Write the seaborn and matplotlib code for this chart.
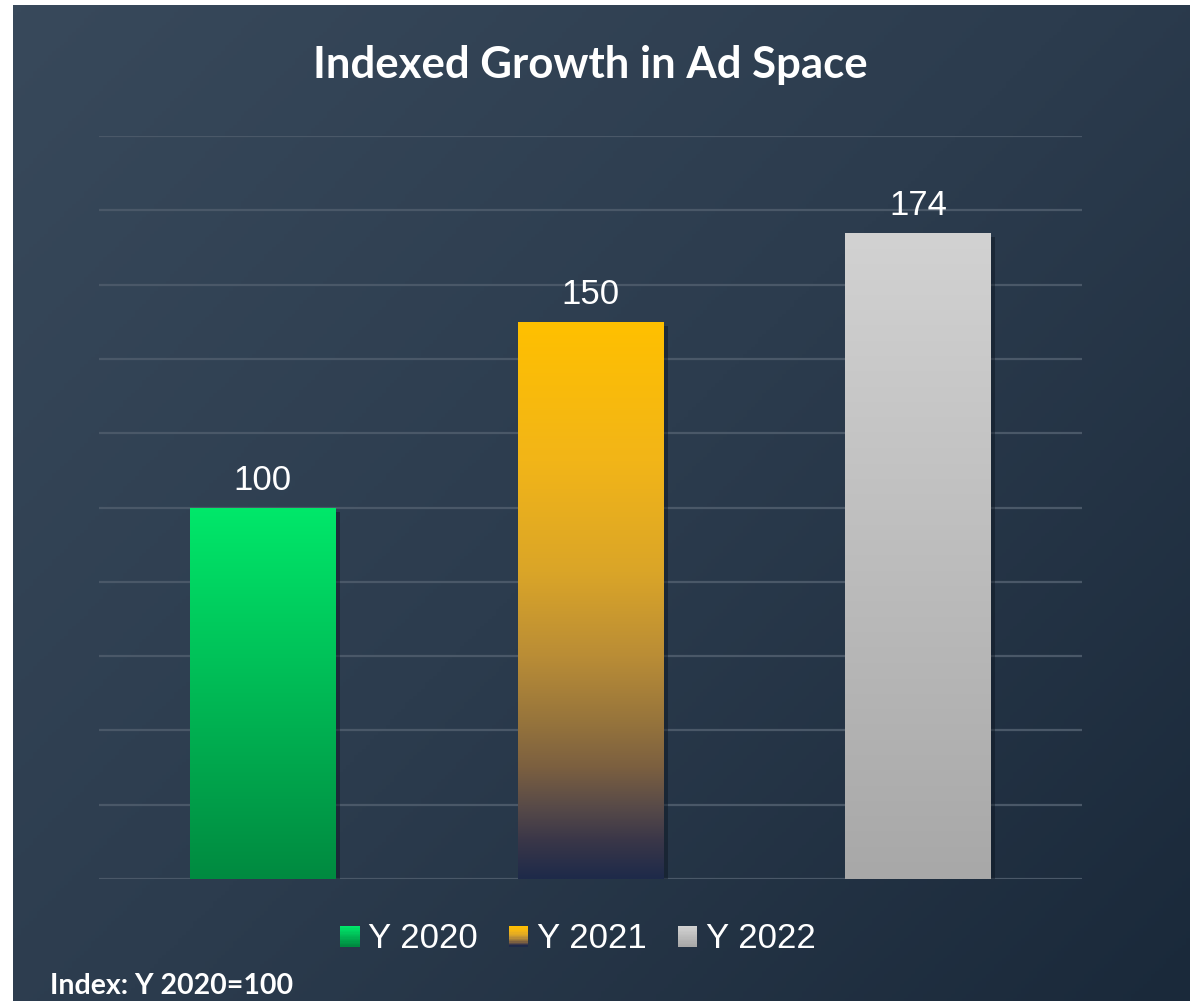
import numpy as np
import pandas as pd
import matplotlib
matplotlib.use("Agg")
import matplotlib.pyplot as plt
import seaborn as sns
from matplotlib.colors import LinearSegmentedColormap
from matplotlib.patches import Rectangle
from matplotlib.legend_handler import HandlerBase
import matplotlib.patheffects as pe

# ---- data ----
categories = ["Y 2020", "Y 2021", "Y 2022"]
index_values = [100, 150, 174]
y_ticks = [0, 20, 40, 60, 80, 100, 120, 140, 160, 180, 200]
title_text = "Indexed Growth in Ad Space"
footnote_text = "Index: Y 2020=100"

# vertical gradient stops per bar (top -> bottom)
gradients = {
    "Y 2020": [(0.0, "#00e86a"), (1.0, "#008a40")],
    "Y 2021": [(0.0, "#ffc000"), (0.25, "#f2b518"), (0.45, "#daa528"),
               (0.6, "#ba8d36"), (0.72, "#96743c"), (0.8, "#7c6040"),
               (0.87, "#594b48"), (0.93, "#3b3748"), (1.0, "#1e2a4a")],
    "Y 2022": [(0.0, "#d2d2d2"), (1.0, "#a8a8a8")],
}
cmaps = {k: LinearSegmentedColormap.from_list(k, v) for k, v in gradients.items()}

sns.set_theme(style="white")
plt.rcParams["font.family"] = ["Liberation Sans", "DejaVu Sans"]

W, H = 1201, 1001
fig = plt.figure(figsize=(W / 100, H / 100), dpi=100)
fig.patch.set_facecolor("white")

# dark diagonal gradient panel
bg_ax = fig.add_axes([13 / W, 0, (1190 - 13) / W, (H - 5) / H], zorder=0)
gx, gy = np.meshgrid(np.linspace(0, 1, 300), np.linspace(0, 1, 300))
t = (gx * 0.55 + gy * 0.45)
bg_cmap = LinearSegmentedColormap.from_list("bg", ["#38495b", "#2c3c4e", "#1a293a"])
bg_ax.imshow(t, cmap=bg_cmap, aspect="auto", origin="upper", extent=(0, 1, 0, 1))
bg_ax.set_axis_off()

# main plotting axes
ax = fig.add_axes([99 / W, (H - 879) / H, (1082 - 99) / W, (879 - 136) / H], zorder=1)
ax.patch.set_alpha(0)

df = pd.DataFrame({"year": categories, "index": index_values})
mid_colors = [cmaps[c](0.5) for c in categories]
sns.barplot(data=df, x="year", y="index", hue="year", palette=mid_colors,
            width=0.445, legend=False, ax=ax, saturation=1)

ax.set_xlim(-0.5, len(categories) - 0.5)
ax.set_ylim(0, 200)
ax.set_yticks(y_ticks)
ax.yaxis.grid(True, color="#4a5868", linewidth=1.6)
ax.set_axisbelow(True)
ax.set_xticks([])
ax.set_yticklabels([])
ax.tick_params(left=False, bottom=False)
ax.set_xlabel("")
ax.set_ylabel("")
for s in ax.spines.values():
    s.set_visible(False)

# gradient fill on each bar plus soft shadow
for patch, cat, val in zip(ax.patches, categories, index_values):
    x0 = patch.get_x()
    w = patch.get_width()
    h = patch.get_height()
    patch.set_edgecolor("none")
    patch.set_path_effects([pe.SimplePatchShadow(offset=(3, -3), shadow_rgbFace="#0b1420", alpha=0.45),
                            pe.Normal()])
    grad = np.linspace(0, 1, 256).reshape(-1, 1)
    img = ax.imshow(grad, cmap=cmaps[cat], aspect="auto", origin="upper",
                    extent=(x0, x0 + w, 0, h), zorder=patch.get_zorder() + 0.5)
    img.set_clip_path(patch)
    ax.annotate(f"{val}", xy=(x0 + w / 2, h), xytext=(0, 12.5),
                textcoords="offset points", ha="center", va="baseline",
                color="white", fontsize=25)

ax.set_xlim(-0.5, len(categories) - 0.5)
ax.set_ylim(0, 200)


# legend with gradient squares
class GradientHandler(HandlerBase):
    def __init__(self, cmap, n=16):
        super().__init__()
        self.cmap = cmap
        self.n = n

    def create_artists(self, legend, orig_handle, xdescent, ydescent,
                       width, height, fontsize, trans):
        arts = []
        step = height / self.n
        for i in range(self.n):
            y = -ydescent + height - (i + 1) * step
            r = Rectangle((-xdescent, y), width, step * 1.05,
                          facecolor=self.cmap(i / (self.n - 1)), edgecolor="none",
                          transform=trans)
            arts.append(r)
        return arts


handles = [Rectangle((0, 0), 1, 1) for _ in categories]
handler_map = {h: GradientHandler(cmaps[c]) for h, c in zip(handles, categories)}
leg = fig.legend(handles, categories, handler_map=handler_map, ncol=3,
                 loc="center", bbox_to_anchor=(578 / W, (H - 939) / H),
                 frameon=False, fontsize=25, labelcolor="white",
                 handlelength=0.55, handleheight=0.55, handletextpad=0.25,
                 columnspacing=0.9, borderaxespad=0)

fig.text(590.5 / W, (H - 78) / H, title_text, ha="center", va="baseline",
         color="white", fontsize=31.5, fontweight="bold", family=["Lato", "DejaVu Sans"])
fig.text(50 / W, (H - 994) / H, footnote_text, ha="left", va="baseline",
         color="white", fontsize=20.5, fontweight="bold", family=["Lato", "DejaVu Sans"])

fig.savefig("out.png", dpi=100, facecolor=fig.get_facecolor())
